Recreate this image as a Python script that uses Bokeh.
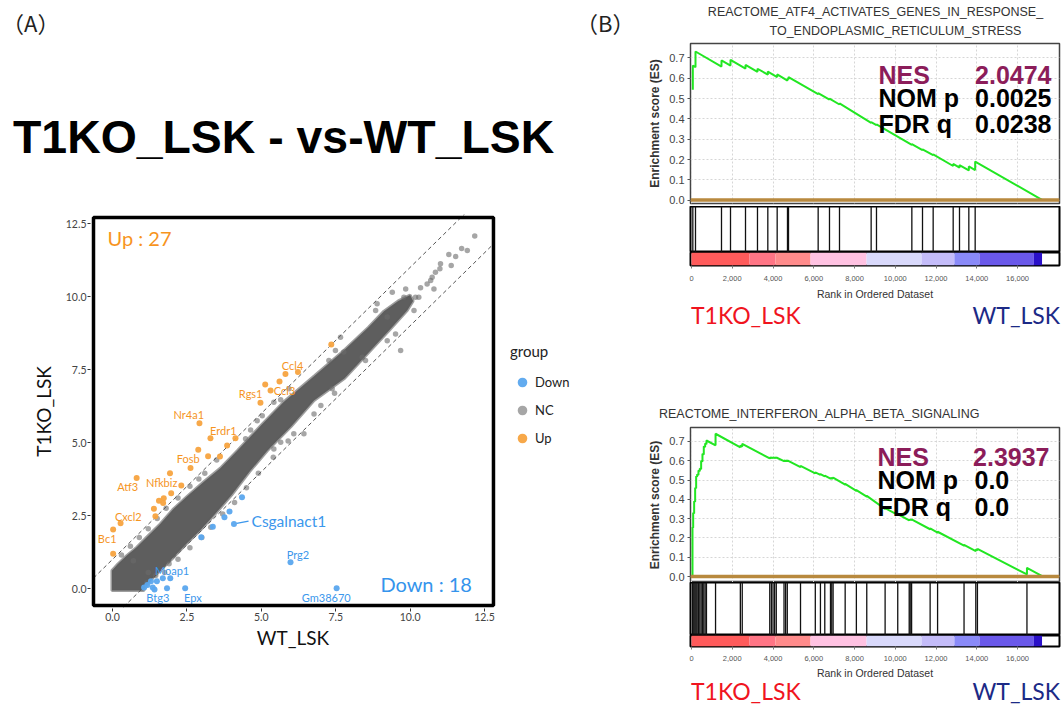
from bokeh.plotting import figure
from bokeh.layouts import row, column
from bokeh.models import (Range1d, FixedTicker, NumeralTickFormatter, Span, Legend,
                          LegendItem, Div, BoxAnnotation)
from bokeh.core.properties import value
from bokeh.embed import file_html
from bokeh.resources import INLINE

# ---------------- scatter data (log2 expression) ----------------
up_x = [7.35, 5.81, 6.23, 5.13, 5.61, 5.31, 4.97, 2.92, 3.29, 3.85, 4.13, 2.88, 3.21, 2.62,
        3.61, 1.93, 2.31, 1.97, 0.81, 1.56, 1.72, 1.70, 1.39, 1.44, 0.27, 0.02, 0.02]
up_y = [8.36, 7.35, 7.42, 6.99, 7.09, 6.78, 6.36, 5.66, 5.15, 4.90, 5.15, 4.75, 4.53, 4.13,
        4.52, 3.95, 3.53, 3.26, 3.79, 3.01, 3.09, 2.93, 2.73, 2.48, 2.24, 2.02, 1.19]
down_x = [4.35, 3.93, 3.76, 4.08, 3.37, 2.98, 5.98, 1.94, 1.69, 1.49, 1.29, 1.06, 1.35, 1.41,
          1.83, 2.44, 7.53, 1.17]
down_y = [3.13, 2.64, 2.44, 2.21, 2.12, 1.76, 0.90, 0.35, 0.35, 0.25, 0.25, 0.04, 0.04, -0.03,
          0.01, 0.01, 0.01, 0.12]
nc_x = [12.17, 11.73, 11.92, 11.53, 11.30, 11.38, 11.02, 11.00, 10.85, 10.74, 10.69, 10.57, 10.80,
        10.35, 10.18, 10.29, 10.13, 9.79, 9.85, 9.40, 8.89, 8.84, 9.23, 9.68, 9.23, 9.51, 8.39,
        8.50, 7.66, 7.49, 7.27, 7.77, 7.38, 7.46, 6.77, 7.00, 6.43, 6.09, 5.93, 5.65, 5.42, 5.03,
        4.86, 4.47, 4.64, 5.65, 5.42,
        0.30, 0.60, 0.90, 1.20, 1.50, 1.80, 2.20, 2.60, 3.10, 3.50, 0.70, 2.90, 1.15, 1.45, 1.75,
        2.20, 2.60, 3.00, 3.30, 3.70, 4.10, 4.50, 4.90, 5.40, 5.90, 1.20, 1.90]
nc_y = [12.07, 11.65, 11.58, 11.37, 11.44, 11.06, 11.12, 10.95, 10.83, 10.66, 10.55, 10.43, 10.26,
        10.30, 9.98, 9.98, 9.52, 9.98, 10.26, 10.15, 9.75, 9.52, 9.30, 8.15, 8.49, 8.72, 7.92,
        7.81, 8.61, 8.15, 7.81, 8.10, 6.84, 6.69, 5.98, 6.27, 5.30, 5.30, 6.84, 6.47, 6.38, 5.92,
        5.75, 5.13, 5.43, 5.01, 4.78,
        1.15, 1.45, 1.75, 2.05, 2.40, 2.75, 3.10, 3.50, 3.95, 4.40, 0.95, 3.75, 0.20, 0.45, 0.55,
        1.00, 1.40, 1.75, 2.10, 2.55, 2.95, 3.45, 3.95, 4.50, 5.05, 0.55, 0.85]
# outline of the dense NC cloud
band_x = [-0.02, 0.18, 0.48, 0.82, 1.15, 1.60, 2.05, 2.50, 3.06, 3.62, 4.19, 5.00, 5.76, 6.80,
          7.77, 8.60, 9.12, 9.60, 10.00, 10.10, 9.90, 9.30, 8.67, 7.80, 6.77, 6.00, 5.20, 4.60,
          4.00, 3.40, 2.95, 2.50, 2.05, 1.60, 1.26, 1.04, -0.02]
band_y = [0.62, 0.84, 1.13, 1.42, 1.76, 2.21, 2.73, 3.15, 3.65, 4.12, 4.72, 5.60, 6.40, 7.30,
          8.15, 8.95, 9.50, 9.85, 10.05, 9.85, 9.52, 8.85, 8.15, 7.20, 6.44, 5.55, 4.72, 4.00,
          3.20, 2.50, 2.00, 1.55, 1.07, 0.62, 0.27, -0.07, -0.07]

up_lab = ["Ccl4", "Ccl3", "Rgs1", "Nr4a1", "Erdr1", "Fosb", "Nfkbiz", "Atf3", "Cxcl2", "Bc1"]
up_lab_x = [6.05, 5.78, 4.64, 2.56, 3.72, 2.54, 1.65, 0.51, 0.53, -0.18]
up_lab_y = [7.64, 6.78, 6.69, 5.96, 5.41, 4.44, 3.64, 3.49, 2.48, 1.70]
down_lab = ["Prg2", "Moap1", "Btg3", "Epx", "Gm38670"]
down_lab_x = [6.23, 2.00, 1.52, 2.70, 7.18]
down_lab_y = [1.15, 0.62, -0.30, -0.30, -0.30]
big_lab = ["Csgalnact1"]
big_lab_x = [4.67]
big_lab_y = [2.32]
lead_x0, lead_y0, lead_x1, lead_y1 = [4.17], [2.23], [4.57], [2.31]
count_up_text, count_down_text = ["Up : 27"], ["Down : 18"]
count_up_xy = ([-0.17], [12.02])
count_down_xy = ([9.0], [0.17])
sc_ticks = [0.0, 2.5, 5.0, 7.5, 10.0, 12.5]
FC_THRESHOLD = 1.0          # dashed lines: y = x +/- 1 (log2 fold change)

# ---------------- GSEA data ----------------
RANK_LO, RANK_HI = -49, 18057
rank_ticks = [0, 2000, 4000, 6000, 8000, 10000, 12000, 14000, 16000]
es_ticks = [0.0, 0.1, 0.2, 0.3, 0.4, 0.5, 0.6, 0.7]
bar_edges = [0, 2850, 4120, 5840, 8590, 11290, 12900, 14130, 16800, 17200]
bar_colors = ["#ff5b5b", "#ff7585", "#ff8b8b", "#ffc2e2", "#d9d9fb", "#c4bcf9", "#8a8af8",
              "#6a58ea", "#2a10c8"]

hits_top = [65, 196, 1472, 1914, 2650, 3238, 3745, 4204, 4710, 4760, 6215, 6771, 7262, 8815,
            9077, 10812, 11335, 11858, 12840, 13150, 13608, 13919]
ranks_top = [65, 65, 196, 196, 1472, 1472, 1914, 1914, 2650, 2650, 3238, 3238, 3745, 3745,
             4204, 4204, 4710, 4710, 4760, 4760, 6215, 6215, 6771, 6771, 7262, 7262, 8815, 8815,
             9077, 9077, 10812, 10812, 11335, 11335, 11858, 11858, 12840, 12840, 13150, 13150,
             13608, 13608, 13919, 13919, 17220]
es_top = [0.543, 0.663, 0.655, 0.732, 0.658, 0.688, 0.663, 0.691, 0.648, 0.666, 0.632, 0.647,
          0.618, 0.633, 0.606, 0.619, 0.589, 0.598, 0.595, 0.606, 0.522, 0.527, 0.495, 0.500,
          0.471, 0.476, 0.380, 0.384, 0.369, 0.373, 0.272, 0.276, 0.246, 0.250, 0.221, 0.225,
          0.168, 0.178, 0.160, 0.172, 0.146, 0.166, 0.148, 0.190, 0.0]

hits_bot = [49, 82, 130, 179, 228, 277, 342, 408, 473, 538, 603, 669, 734, 1180, 2397, 2490,
            3840, 3920, 4000, 4080, 4160, 4540, 4620, 4700, 5349, 6075, 6327, 6540, 6820, 6882,
            6948, 7540, 8090, 8600, 9500, 10120, 10682, 10731, 10800, 11709, 12075, 13373,
            13950, 14030, 16460]
es_bot_before = [0.000, 0.253, 0.327, 0.387, 0.457, 0.517, 0.526, 0.546, 0.556, 0.596, 0.632,
                 0.671, 0.686, 0.680, 0.670, 0.674, 0.612, 0.613, 0.614, 0.614, 0.614, 0.598,
                 0.598, 0.598, 0.567, 0.535, 0.527, 0.519, 0.507, 0.508, 0.508, 0.476, 0.444,
                 0.414, 0.350, 0.319, 0.291, 0.292, 0.292, 0.245, 0.228, 0.160, 0.132, 0.136,
                 0.011]
es_bot_after = [0.255, 0.330, 0.390, 0.460, 0.520, 0.530, 0.550, 0.560, 0.600, 0.636, 0.675,
                0.690, 0.705, 0.740, 0.679, 0.688, 0.617, 0.618, 0.618, 0.618, 0.617, 0.602,
                0.602, 0.602, 0.574, 0.540, 0.531, 0.523, 0.511, 0.512, 0.512, 0.480, 0.448,
                0.418, 0.354, 0.323, 0.295, 0.296, 0.296, 0.249, 0.232, 0.164, 0.140, 0.143,
                0.045]
es_bot_end = (17250, 0.0)

stats_top = {"labels": ["NES", "NOM p", "FDR q"], "values": ["2.0474", "0.0025", "0.0238"]}
stats_bot = {"labels": ["NES", "NOM p", "FDR q"], "values": ["2.3937", "0.0", "0.0"]}

# ---------------- styling ----------------
PURPLE = "#8c1d5a"
GREEN = "#22e622"
BROWN = "#b8893e"
UP_C, UP_T = "#f7a33f", "#f5951f"
DN_C, DN_T = "#5aa6ee", "#3b97ec"
RED_T, BLUE_T = "#f0141e", "#1c2a86"
SANS = "Liberation Sans"
HUM = "Lato"
CJK = "Noto Sans CJK JP"


def text_div(w, h, items):
    """items: (x, y_center, text, size_px, color, font, weight, anchor)"""
    parts = []
    for x, y, txt, size, color, font, weight, anchor in items:
        lh = size + 2
        pos = f"left:{x}px;"
        if anchor == "right":
            pos = f"right:{w - x}px;"
        elif anchor == "center":
            pos = f"left:{x}px;transform:translateX(-50%);"
        parts.append(
            f'<span style="position:absolute;{pos}top:{y - lh / 2:.1f}px;'
            f'line-height:{lh}px;font-size:{size}px;font-family:\'{font}\';color:{color};'
            f'font-weight:{weight};white-space:nowrap;">{txt}</span>')
    html = (f'<div style="position:relative;width:{w}px;height:{h}px;overflow:visible;">'
            + "".join(parts) + "</div>")
    return Div(text=html, width=w, height=h, margin=0)


# ---------------- left: scatter ----------------
LW = 575
SX0, SX1, SY0, SY1 = -0.64, 12.80, -0.58, 12.71      # ggplot panel limits
PXU, PYU = 29.76, 29.2                               # pixels per unit
F_LEFT, F_TOP, F_W, F_H = 90, 14, 485, 394           # frame box (frame extends to the legend)
x_lo = SX0 - 3 / PXU
x_hi = x_lo + F_W / PXU
y_lo = SY0 - 3 / PYU
y_hi = y_lo + F_H / PYU

divA = text_div(LW, 200, [
    (2, 22, "（A）", 22, "#222", CJK, "normal", "left"),
    (13, 137, "T1KO_LSK - vs-WT_LSK", 46.4, "#000", SANS, "bold", "left"),
])

sc = figure(width=LW, height=F_TOP + F_H + 19, x_range=Range1d(x_lo, x_hi),
            y_range=Range1d(y_lo, y_hi), output_backend="svg", toolbar_location=None,
            min_border_left=F_LEFT, min_border_right=0, min_border_top=F_TOP,
            min_border_bottom=19)
sc.grid.visible = False
sc.outline_line_color = None
for ax in (sc.xaxis, sc.yaxis):
    ax.ticker = FixedTicker(ticks=sc_ticks)
    ax.formatter = NumeralTickFormatter(format="0.0")
    ax.axis_line_color = None
    ax.major_tick_in = 0
    ax.major_tick_out = 3
    ax.major_tick_line_color = "#333"
    ax.minor_tick_line_color = None
    ax.major_label_text_font = HUM
    ax.major_label_text_font_size = "10.5px"
    ax.major_label_text_color = "#444"
    ax.major_label_standoff = 1
sc.yaxis.axis_label = "T1KO_LSK"
sc.yaxis.axis_label_text_font = HUM
sc.yaxis.axis_label_text_font_size = "19px"
sc.yaxis.axis_label_text_font_style = "normal"
sc.yaxis.axis_label_text_color = "#111"
sc.yaxis.axis_label_standoff = 8

sc.patch(band_x, band_y, fill_color="#5e5e5e", line_color="#5e5e5e", line_width=3,
         line_alpha=0.6)
r_nc = sc.scatter(nc_x, nc_y, size=5.5, fill_color="#6a6a6a", line_color=None, fill_alpha=0.6)
thr_x = [SX0, SX1]
sc.line(thr_x, [v + FC_THRESHOLD for v in thr_x], line_color="#555", line_dash="4 3",
        line_width=1)
sc.line(thr_x, [v - FC_THRESHOLD for v in thr_x], line_color="#555", line_dash="4 3",
        line_width=1)
r_dn = sc.scatter(down_x, down_y, size=6, fill_color=DN_C, line_color=None, fill_alpha=0.95)
r_up = sc.scatter(up_x, up_y, size=6, fill_color=UP_C, line_color=None, fill_alpha=0.95)
sc.segment(x0=lead_x0, y0=lead_y0, x1=lead_x1, y1=lead_y1, line_color=DN_T, line_width=1.3)
sc.text(x=up_lab_x, y=up_lab_y, text=up_lab, text_font=value(HUM), text_font_size=value("11px"),
        text_color=UP_T, text_align="center", text_baseline="middle")
sc.text(x=down_lab_x, y=down_lab_y, text=down_lab, text_font=value(HUM),
        text_font_size=value("11px"), text_color=DN_T, text_align="center",
        text_baseline="middle")
sc.text(x=big_lab_x, y=big_lab_y, text=big_lab, text_font=value(HUM),
        text_font_size=value("15.5px"), text_color=DN_T, text_align="left",
        text_baseline="middle")
sc.text(x=count_up_xy[0], y=count_up_xy[1], text=count_up_text, text_font=value(HUM),
        text_font_size=value("20px"), text_color="#f7941d", text_align="left",
        text_baseline="middle")
sc.text(x=count_down_xy[0], y=count_down_xy[1], text=count_down_text, text_font=value(HUM),
        text_font_size=value("20px"), text_color="#3594ec", text_align="left",
        text_baseline="middle")
sc.add_layout(BoxAnnotation(left=SX0, right=SX1, bottom=SY0, top=SY1, fill_alpha=0,
                            line_color="#000", line_alpha=1.0, line_width=3.5,
                            level="overlay"))

legend = Legend(items=[LegendItem(label="Down", renderers=[r_dn]),
                       LegendItem(label="NC", renderers=[r_nc]),
                       LegendItem(label="Up", renderers=[r_up])],
                location=(420, 156), title="group")
legend.title_text_font = HUM
legend.title_text_font_size = "15px"
legend.title_text_font_style = "normal"
legend.title_text_color = "#222"
legend.title_standoff = 8
legend.label_text_font = HUM
legend.label_text_font_size = "13px"
legend.label_text_color = "#222"
legend.glyph_width = 24
legend.glyph_height = 28
legend.label_height = 28
legend.label_standoff = 1
legend.spacing = 0
legend.padding = 5
legend.margin = 0
legend.border_line_color = None
legend.background_fill_alpha = 0
sc.add_layout(legend, "center")

divB = text_div(LW, 705 - 200 - (F_TOP + F_H + 19), [
    (293, 10, "WT_LSK", 19, "#111", HUM, "normal", "center"),
])
left_col = column(divA, sc, divB)

# ---------------- right: GSEA ----------------
RW = 488


def es_fig(h, ylo, yhi, bottom, xs, ys, stats, lab_x, val_x, val_align, base_y):
    p = figure(width=RW, height=h, x_range=Range1d(RANK_LO, RANK_HI),
               y_range=Range1d(ylo, yhi), x_axis_location=None, output_backend="svg",
               toolbar_location=None, min_border_left=115, min_border_right=4,
               min_border_top=1, min_border_bottom=bottom)
    p.outline_line_color = "#444"
    p.outline_line_width = 1.5
    p.xgrid.ticker = FixedTicker(ticks=rank_ticks)
    p.grid.grid_line_color = "#d6d6d6"
    p.grid.grid_line_dash = "2 2"
    p.grid.grid_line_width = 1
    p.ygrid.ticker = FixedTicker(ticks=es_ticks)
    ax = p.yaxis
    ax.ticker = FixedTicker(ticks=es_ticks)
    ax.formatter = NumeralTickFormatter(format="0.0")
    ax.axis_line_color = None
    ax.major_tick_in = 0
    ax.major_tick_out = 3
    ax.major_tick_line_color = "#555"
    ax.minor_tick_line_color = None
    ax.major_label_text_font = SANS
    ax.major_label_text_font_size = "11px"
    ax.major_label_text_color = "#444"
    ax.major_label_standoff = 3
    ax.axis_label = "Enrichment score (ES)"
    ax.axis_label_text_font = SANS
    ax.axis_label_text_font_size = "12px"
    ax.axis_label_text_font_style = "bold"
    ax.axis_label_text_color = "#333"
    ax.axis_label_standoff = 4
    p.line(xs, ys, line_color=GREEN, line_width=2)
    p.add_layout(Span(location=0, dimension="width", line_color=BROWN, line_width=3.5))
    for i, (lb, val) in enumerate(zip(stats["labels"], stats["values"])):
        col = PURPLE if i == 0 else "#000"
        p.text(x=[lab_x], y=[base_y[i]], text=[lb], text_font=value(SANS),
               text_font_size=value("25px"), text_font_style="bold", text_color=col,
               text_align="left", text_baseline="alphabetic")
        p.text(x=[val_x[i]], y=[base_y[i]], text=[val], text_font=value(SANS),
               text_font_size=value("25px"), text_font_style="bold", text_color=col,
               text_align=val_align[i], text_baseline="alphabetic")
    return p


def hits_fig(h, hits):
    p = figure(width=RW, height=h, x_range=Range1d(RANK_LO, RANK_HI), y_range=Range1d(0, 1),
               x_axis_type=None, y_axis_type=None, output_backend="svg", toolbar_location=None,
               min_border_left=115, min_border_right=4, min_border_top=0, min_border_bottom=0)
    p.outline_line_color = "#000"
    p.outline_line_width = 2
    p.segment(x0=hits, y0=0, x1=hits, y1=1, line_color="#111", line_width=1.3)
    return p


def bar_fig(h, bottom, tick_standoff, label_standoff):
    p = figure(width=RW, height=h, x_range=Range1d(RANK_LO, RANK_HI), y_range=Range1d(0, 1),
               y_axis_type=None, output_backend="svg", toolbar_location=None,
               min_border_left=115, min_border_right=4, min_border_top=0,
               min_border_bottom=bottom)
    p.outline_line_color = "#000"
    p.outline_line_width = 2
    p.grid.visible = False
    p.quad(left=bar_edges[:-1], right=bar_edges[1:], bottom=0, top=1, fill_color=bar_colors,
           line_color=None)
    ax = p.xaxis
    ax.ticker = FixedTicker(ticks=rank_ticks)
    ax.formatter = NumeralTickFormatter(format="0,0")
    ax.axis_line_color = None
    ax.major_tick_in = 0
    ax.major_tick_out = 3
    ax.major_tick_line_color = "#777"
    ax.minor_tick_line_color = None
    ax.major_label_text_font = SANS
    ax.major_label_text_font_size = "7.5px"
    ax.major_label_text_color = "#555"
    ax.major_label_standoff = tick_standoff
    ax.axis_label = "Rank in Ordered Dataset"
    ax.axis_label_text_font = SANS
    ax.axis_label_text_font_size = "10.5px"
    ax.axis_label_text_font_style = "normal"
    ax.axis_label_text_color = "#333"
    ax.axis_label_standoff = label_standoff
    return p


es_bot_x, es_bot_y = [], []
for r, b, a in zip(hits_bot, es_bot_before, es_bot_after):
    es_bot_x += [r, r]
    es_bot_y += [b, a]
es_bot_x.append(es_bot_end[0])
es_bot_y.append(es_bot_end[1])

divTop = text_div(RW, 42, [
    (1, 22, "（B）", 22, "#222", CJK, "normal", "left"),
    (300.5, 12, "REACTOME_ATF4_ACTIVATES_GENES_IN_RESPONSE_", 12.5, "#333", SANS, "normal",
     "center"),
    (320.5, 31, "TO_ENDOPLASMIC_RETICULUM_STRESS", 12.5, "#333", SANS, "normal", "center"),
])
# top ES frame: page y 43..203, zero line at 199.6
es1 = es_fig(164, -0.0167, 0.7714, 3, ranks_top, es_top, stats_top, 9176,
             [17664, 17664, 17664], ["right", "right", "right"], [0.618, 0.503, 0.374])
h1 = hits_fig(46, hits_top)
b1 = bar_fig(50, 36, 7, 4)
divMid = text_div(RW, 124, [
    (116, 13, "T1KO_LSK", 23, RED_T, HUM, "normal", "left"),
    (485, 13, "WT_LSK", 23, BLUE_T, HUM, "normal", "right"),
    (84, 112, "REACTOME_INTERFERON_ALPHA_BETA_SIGNALING", 12.5, "#333", SANS, "normal", "left"),
])
es2 = es_fig(156, -0.031, 0.7724, 0, es_bot_x, es_bot_y, stats_bot, 9127,
             [17566, 13886, 13886], ["right", "left", "left"], [0.617, 0.498, 0.360])
h2 = hits_fig(53, hits_bot)
b2 = bar_fig(46, 33, 6, 3)
divBot = text_div(RW, 24, [
    (116, 10.5, "T1KO_LSK", 23, RED_T, HUM, "normal", "left"),
    (485, 10.5, "WT_LSK", 23, BLUE_T, HUM, "normal", "right"),
])

right_col = column(divTop, es1, h1, b1, divMid, es2, h2, b2, divBot)
page = row(left_col, right_col)
open("out.html", "w").write(file_html(page, INLINE))
